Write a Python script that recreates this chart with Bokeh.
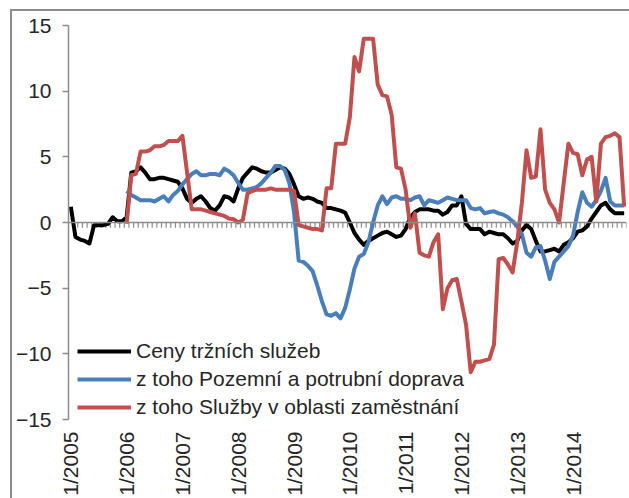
import numpy as np
from bokeh.plotting import figure
from bokeh.models import Range1d, Span, FixedTicker, Legend, LegendItem
from bokeh.embed import file_html
from bokeh.resources import INLINE

# ---- data (monthly, 1/2005 .. 12/2014) ----
x_tick_labels = ["1/2005", "1/2006", "1/2007", "1/2008", "1/2009",
                 "1/2010", "1/2011", "1/2012", "1/2013", "1/2014"]
y_ticks = [-15, -10, -5, 0, 5, 10, 15]

series_names = ["Ceny tržních služeb",
                "z toho Pozemní a potrubní doprava",
                "z toho Služby v oblasti zaměstnání"]

ceny = [
    1.2, -1.1, -1.3, -1.4, -1.6, -0.2, -0.2, -0.2, -0.1, 0.4, 0.1, 0.1,
    0.4, 3.8, 3.9, 4.2, 3.8, 3.3, 3.3, 3.4, 3.4, 3.3, 3.2, 3.1,
    2.6, 1.8, 1.5, 1.8, 2.0, 1.6, 1.1, 0.9, 1.3, 2.0, 1.9, 1.6,
    2.6, 3.4, 3.8, 4.2, 4.1, 3.9, 3.8, 3.8, 4.0, 4.2, 4.1, 3.7,
    2.9, 2.0, 1.8, 1.9, 1.8, 1.6, 1.5, 1.1, 1.1, 1.0, 0.9, 0.75,
    0.0, -0.8, -1.3, -1.7, -1.4, -1.2, -1.0, -0.8, -0.7, -0.9, -1.1, -1.0,
    -0.5, 0.4, 0.8, 1.0, 1.0, 1.0, 0.9, 0.9, 0.6, 0.8, 1.3, 1.3,
    2.0, -0.1, -0.5, -0.5, -0.5, -0.9, -0.7, -0.8, -0.9, -0.9, -1.2, -1.6,
    -1.4, -0.6, -0.2, -0.5, -1.4, -2.2, -2.2, -2.1, -2.0, -2.2, -1.7, -1.5,
    -1.2, -0.7, -0.6, -0.3, 0.3, 0.8, 1.3, 1.5, 1.0, 0.7, 0.7, 0.7,
]

doprava = [None] * 12 + [
    2.4, 2.1, 1.9, 1.7, 1.7, 1.7, 1.6, 1.8, 2.0, 1.6, 2.1, 2.4,
    2.9, 3.3, 3.7, 3.9, 3.6, 3.6, 3.7, 3.7, 3.6, 4.1, 3.9, 3.6,
    3.0, 2.5, 2.5, 2.6, 2.7, 3.0, 3.4, 3.8, 4.3, 4.3, 4.0, 3.0,
    0.8, -2.9, -3.0, -3.3, -3.7, -4.8, -6.0, -7.0, -7.1, -6.9, -7.3, -6.5,
    -5.1, -3.5, -2.6, -2.4, -1.5, 0.0, 1.3, 2.0, 1.4, 1.9, 2.0, 1.8,
    1.8, 1.7, 1.9, 2.0, 1.3, 1.7, 1.6, 1.5, 1.7, 1.9, 1.8, 1.7,
    1.7, 1.7, 1.1, 1.0, 1.1, 0.7, 0.8, 0.85, 0.7, 0.6, 0.4, 0.1,
    -0.3, -0.9, -2.3, -2.6, -1.9, -1.8, -2.9, -4.3, -3.0, -2.6, -2.2, -1.8,
    -1.0, 0.8, 2.3, 1.5, 1.2, 1.7, 2.4, 3.4, 1.6, 1.3, 1.3, 1.3,
]

zamestnani = [None] * 12 + [
    -0.1, 3.6, 3.7, 5.4, 5.4, 5.5, 5.8, 5.8, 5.9, 6.2, 6.2, 6.2,
    6.6, 3.8, 1.0, 1.0, 1.0, 0.9, 0.8, 0.7, 0.6, 0.5, 0.3, 0.25,
    0.0, 0.2, 2.2, 2.4, 2.5, 2.5, 2.5, 2.6, 2.5, 2.5, 2.5, 2.5,
    2.4, -0.2, -0.3, -0.4, -0.5, -0.5, -0.6, 2.6, 2.6, 6.0, 6.0, 6.0,
    8.0, 12.6, 11.5, 14.0, 14.0, 14.0, 10.5, 9.7, 9.6, 8.2, 4.2, 4.1,
    2.5, -0.4, 0.7, -2.3, -2.5, -2.6, -1.5, -0.9, -6.6, -5.0, -4.4, -4.3,
    -6.0, -7.8, -11.4, -10.6, -10.6, -10.5, -10.4, -9.3, -2.8, -2.7, -3.2, -3.8,
    -1.5, 1.5, 5.5, 3.4, 3.5, 7.1, 2.5, 1.5, 1.0, 0.0, 3.0, 6.0,
    5.3, 5.2, 3.6, 4.8, 5.0, 1.6, 6.0, 6.5, 6.6, 6.8, 6.5, 1.2,
]

colors = ["#000000", "#4a7ebb", "#c0504d"]

# ---- figure ----
n = len(ceny)
months = np.arange(n)
label_pos = list(range(0, n, 12))

FONT = "Liberation Sans"
TXT = "#262626"
GRAY = "#8c8c8c"
FS = "21px"

p = figure(width=617, height=487,
           x_range=Range1d(-0.5, n - 0.5), y_range=Range1d(y_ticks[0], y_ticks[-1]),
           output_backend="svg", toolbar_location=None,
           min_border_left=51, min_border_right=3, min_border_top=14, min_border_bottom=74,
           margin=(11, 0, 0, 12),
           styles={"outline": f"2px solid {GRAY}"})
p.xgrid.visible = False
p.ygrid.visible = False
p.outline_line_color = None
p.background_fill_color = "white"
p.border_fill_color = "white"

# y axis
p.yaxis.ticker = FixedTicker(ticks=y_ticks)
p.yaxis.axis_line_color = GRAY
p.yaxis.axis_line_width = 1.5
p.yaxis.major_tick_line_color = GRAY
p.yaxis.major_tick_line_width = 1.5
p.yaxis.major_tick_out = 6
p.yaxis.major_tick_in = 0
p.yaxis.minor_tick_line_color = None
p.yaxis.major_label_text_font = FONT
p.yaxis.major_label_text_font_size = FS
p.yaxis.major_label_text_color = TXT
p.yaxis.major_label_standoff = 11

# x axis (labels only at the bottom)
p.xaxis.ticker = FixedTicker(ticks=label_pos)
p.xaxis.major_label_overrides = {pos: lab for pos, lab in zip(label_pos, x_tick_labels)}
p.xaxis.axis_line_color = None
p.xaxis.major_tick_line_color = None
p.xaxis.minor_tick_line_color = None
p.xaxis.major_tick_out = 0
p.xaxis.major_label_orientation = np.pi / 2
p.xaxis.major_label_text_font = FONT
p.xaxis.major_label_text_font_size = FS
p.xaxis.major_label_text_color = TXT
p.xaxis.major_label_standoff = 12

# horizontal axis line at zero with monthly tick marks
p.add_layout(Span(location=0, dimension="width", line_color=GRAY, line_width=1.5))
tick_x = months + 0.5
p.segment(x0=tick_x, y0=np.zeros(n), x1=tick_x, y1=np.full(n, -0.4),
          line_color=GRAY, line_width=1.2)

renderers = []
for vals, col in zip([ceny, doprava, zamestnani], colors):
    y = np.array([np.nan if v is None else v for v in vals], dtype=float)
    r = p.line(months, y, line_color=col, line_width=4, line_join="round")
    renderers.append(r)

legend = Legend(items=[LegendItem(label=nm, renderers=[r]) for nm, r in zip(series_names, renderers)],
                location=(9, 0))
legend.label_text_font = FONT
legend.label_text_font_size = FS
legend.label_text_color = TXT
legend.glyph_width = 54
legend.glyph_height = 18
legend.label_height = 18
legend.spacing = 4
legend.padding = 0
legend.margin = 0
legend.label_standoff = 5
legend.border_line_color = None
legend.background_fill_alpha = 0
p.add_layout(legend)

open("out.html", "w").write(file_html(p, INLINE))
